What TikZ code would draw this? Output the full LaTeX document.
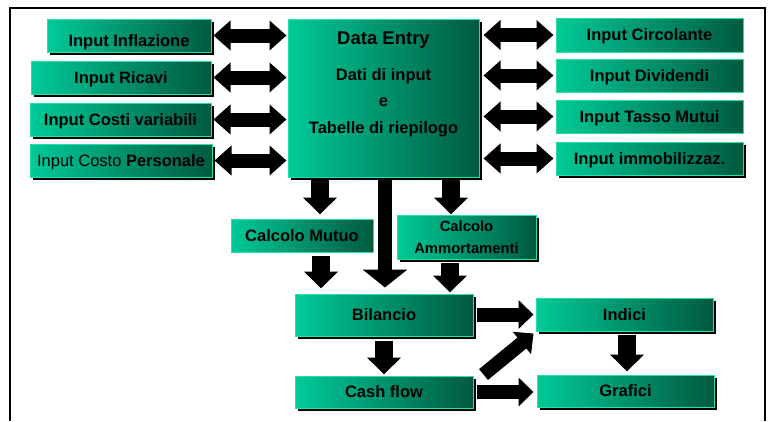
\documentclass[tikz,border=0pt]{standalone}
\usepackage{fontspec}
\setmainfont{Liberation Sans}
\usetikzlibrary{arrows.meta,shadows,calc}
\definecolor{gl}{RGB}{0,202,152}
\definecolor{gd}{RGB}{0,90,64}
\definecolor{ge}{RGB}{40,222,168}
\begin{document}
\begin{tikzpicture}[x=1pt,y=-1pt,
  boxbase/.style={left color=gl, right color=gd, draw=ge, line width=1pt,
    inner sep=0pt, text=black, font=\fontsize{16.5}{19}\selectfont\bfseries},
  box/.style={boxbase, text height=11.8pt, text depth=0pt},
  shad/.style={general shadow={fill=black, shadow xshift=3pt, shadow yshift=-3pt}},
  dtxt/.style={anchor=base, font=\fontsize{16.5}{19}\selectfont\bfseries, text=black, inner sep=0pt},
  fatH/.style={line width=14pt, {Triangle[width=29pt,length=17pt]}-{Triangle[width=29pt,length=17pt]}},
  fatR/.style={line width=14pt, -{Triangle[width=28pt,length=15pt]}},
  fatV/.style={line width=18pt, -{Triangle[width=33pt,length=17pt]}},
  fatL/.style={line width=14pt, -{Triangle[width=44pt,length=18pt]}}]
\useasboundingbox (0,0) rectangle (768,421);
\draw[line width=2pt] (10,421) -- (10,8) -- (765,8) -- (765,421);

% left inputs
\node[box,shad,minimum width=164pt,minimum height=33pt,text height=21.8pt] (infl) at (129,35.5) {Input Inflazione};
\node[box,shad,minimum width=180pt,minimum height=33pt] (ricavi) at (121,77.5) {Input Ricavi};
\node[box,shad,minimum width=181pt,minimum height=33pt] (costi) at (120.5,119.5) {Input Costi variabili};
\node[box,shad,minimum width=182pt,minimum height=33pt] (pers) at (121,160.5) {{\mdseries Input Costo} Personale};

% data entry
\node[box,shad,minimum width=191pt,minimum height=158pt] (data) at (383.5,98) {};
\node[dtxt,font=\fontsize{18.5}{22}\selectfont\bfseries] (dt1) at (383.5,44) {Data Entry};
\node[dtxt] (dt2) at (383.5,80) {Dati di input};
\node[dtxt] (dt3) at (383.5,106.5) {e};
\node[dtxt] (dt4) at (383.5,133) {Tabelle di riepilogo};

% right inputs
\node[box,minimum width=187pt,minimum height=34pt] (circ) at (649.5,35) {Input Circolante};
\node[box,minimum width=187pt,minimum height=33pt] (divid) at (649.5,75.5) {Input Dividendi};
\node[box,minimum width=187pt,minimum height=33pt] (tasso) at (649.5,116.5) {Input Tasso Mutui};
\node[box,shad,minimum width=187pt,minimum height=33pt] (immob) at (649.5,158.5) {Input immobilizzaz.};

% calcoli
\node[box,minimum width=142pt,minimum height=33pt] (mutuo) at (302,235.5) {Calcolo Mutuo};
\node[boxbase,shad,minimum width=139pt,minimum height=44pt,align=center,
  font=\fontsize{14.8}{22}\selectfont\bfseries] (ammort) at (466.5,237) {Calcolo\\Ammortamenti};

% outputs
\node[box,shad,minimum width=178pt,minimum height=42pt] (bil) at (384,315) {Bilancio};
\node[box,shad,minimum width=178pt,minimum height=32pt] (cash) at (384,392) {Cash flow};
\node[box,shad,minimum width=177pt,minimum height=33pt] (indici) at (624.5,314.5) {Indici};
\node[box,shad,minimum width=177pt,minimum height=32pt] (grafici) at (625.5,391) {Grafici};

% double arrows left
\foreach \n in {infl,ricavi,costi,pers}
  \draw[fatH,shorten <=2pt,shorten >=1pt] (\n.east) -- (\n.east -| data.west);
% double arrows right
\foreach \n in {circ,divid,tasso,immob}
  \draw[fatH,shorten <=2pt,shorten >=4pt] (\n.west) -- (\n.west -| data.east);

% down arrows
\coordinate (c1) at (320,0);
\coordinate (c2) at (385,0);
\coordinate (c3) at (451,0);
\coordinate (c4) at (321,0);
\coordinate (c5) at (450,0);
\coordinate (c6) at (627,0);
\draw[fatV,shorten >=4pt] (data.south -| c1) -- (mutuo.north -| c1);
\draw[fatL,shorten >=6pt] (data.south -| c2) -- (bil.north -| c2);
\draw[fatV] (data.south -| c3) -- (ammort.north -| c3);
\draw[fatV,shorten <=3pt,shorten >=5pt] (mutuo.south -| c4) -- (bil.north -| c4);
\draw[fatV,shorten <=3pt,shorten >=1pt] (ammort.south -| c5) -- (bil.north -| c5);
\draw[fatV,shorten <=4pt,shorten >=1pt] (bil.south) -- (cash.north);
\draw[fatV,shorten <=3pt,shorten >=3pt] (indici.south -| c6) -- (grafici.north -| c6);

% right arrows
\draw[fatR,shorten <=3pt,shorten >=2pt] (bil.east |- indici.west) -- (indici.west);
\draw[fatR,shorten <=3pt,shorten >=3pt] (cash.east) -- (cash.east -| grafici.west);
\draw[fatR] ($(cash.north east)+(10,-1)$) -- ($(indici.south west)+(-2,2)$);
\end{tikzpicture}
\end{document}
